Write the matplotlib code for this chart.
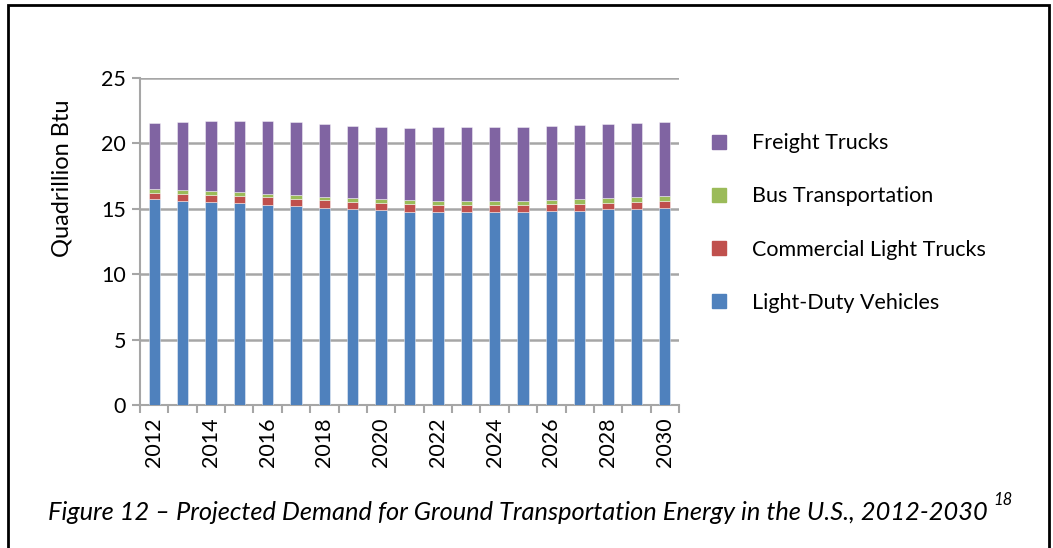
import numpy as np
import matplotlib
matplotlib.use("Agg")
import matplotlib.pyplot as plt
from matplotlib.patches import Rectangle, Patch

plt.rcParams['font.family'] = ['Lato', 'DejaVu Sans']

# Data (quadrillion Btu)
years = list(range(2012, 2031))
light_duty = [15.73, 15.62, 15.55, 15.41, 15.29, 15.21, 15.09, 14.98, 14.88, 14.78,
              14.76, 14.73, 14.73, 14.76, 14.80, 14.85, 14.95, 14.98, 15.09]
comm_light_trucks = [0.50, 0.54, 0.53, 0.59, 0.58, 0.56, 0.56, 0.57, 0.53, 0.56,
                     0.56, 0.59, 0.59, 0.56, 0.54, 0.54, 0.52, 0.57, 0.53]
bus = [0.28, 0.28, 0.28, 0.26, 0.26, 0.25, 0.28, 0.28, 0.31, 0.31,
       0.28, 0.28, 0.28, 0.28, 0.33, 0.36, 0.36, 0.35, 0.36]
freight = [5.03, 5.20, 5.35, 5.45, 5.56, 5.59, 5.53, 5.53, 5.56, 5.55,
           5.62, 5.62, 5.62, 5.65, 5.63, 5.63, 5.63, 5.64, 5.66]

series_names = ['Light-Duty Vehicles', 'Commercial Light Trucks',
                'Bus Transportation', 'Freight Trucks']
colors = ['#4F81BD', '#C0504D', '#9BBB59', '#8064A2']

fig = plt.figure(figsize=(10.53, 5.48), dpi=100)
ax = fig.add_axes([140 / 1053, 1 - 405 / 548, 539 / 1053, 327 / 548])

x = np.arange(len(years))
bottom = np.zeros(len(years))
for vals, col in zip([light_duty, comm_light_trucks, bus, freight], colors):
    ax.bar(x, vals, width=0.4, bottom=bottom, color=col, zorder=3,
           edgecolor=(1, 1, 1, 0.5), linewidth=0.6)
    bottom += np.array(vals)

grid_col = '#A6A6A6'
ax.set_ylim(0, 25)
ax.set_xlim(-0.5, len(years) - 0.5)
ax.set_yticks(range(0, 26, 5))
ax.yaxis.grid(True, color=grid_col, linewidth=1.8, zorder=0)
for s in ['top', 'right']:
    ax.spines[s].set_visible(False)
for s in ['left', 'bottom']:
    ax.spines[s].set_color(grid_col)
    ax.spines[s].set_linewidth(1.5)

ax.set_xticks(x[::2])
ax.set_xticklabels([str(y) for y in years[::2]], rotation=90)
ax.set_xticks(np.arange(-0.5, len(years), 1), minor=True)
ax.tick_params(axis='x', which='major', length=0, pad=9, labelsize=15.5)
ax.tick_params(axis='x', which='minor', length=6, width=1.5, color=grid_col)
ax.tick_params(axis='y', length=6, width=1.5, color=grid_col, labelsize=15.5, pad=4)

# axis title sits above the plot-area centre, as in the original
fig.text(62 / 1053, 1 - 178 / 548, 'Quadrillion Btu', rotation=90,
         ha='center', va='center', fontsize=17)

handles = [Patch(color=c) for c in colors][::-1]
fig.legend(handles, series_names[::-1], loc='center left',
           bbox_to_anchor=(693 / 1053, 1 - 223 / 548), frameon=False,
           fontsize=15.5, handlelength=0.65, handleheight=0.65,
           handletextpad=1.2, labelspacing=1.54)

fig.text(518 / 1053, 1 - 512 / 548,
         'Figure 12 \u2013 Projected Demand for Ground Transportation Energy in the U.S., 2012-2030',
         ha='center', va='center', fontsize=18.3, style='italic')
fig.text(993 / 1053, 1 - 500 / 548, '18', ha='left', va='center',
         fontsize=12, style='italic')

fig.patches.append(Rectangle((8 / 1053, -0.05), 1041 / 1053, 1.05 - 5 / 548,
                             transform=fig.transFigure, fill=False,
                             edgecolor='black', linewidth=2, clip_on=False))

fig.savefig('out.png', dpi=100)
